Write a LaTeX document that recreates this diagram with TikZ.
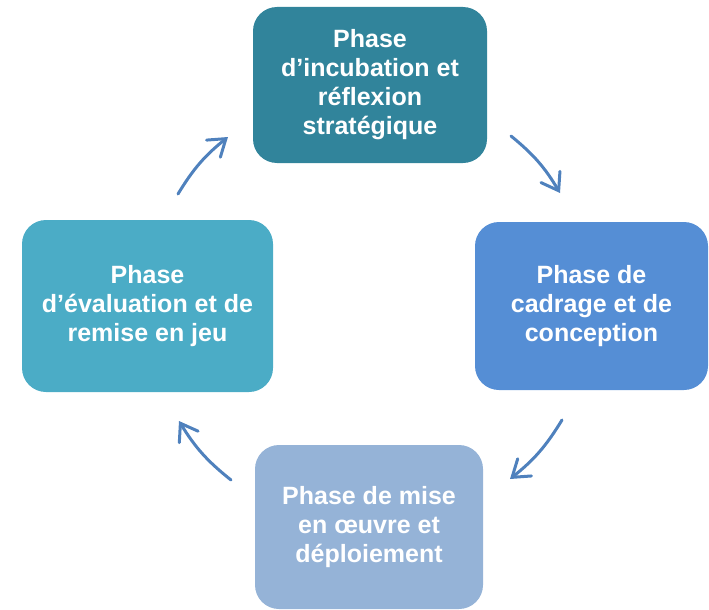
\documentclass[tikz,border=0pt]{standalone}
\usepackage{fontspec}
\setmainfont{Liberation Sans}
\usetikzlibrary{arrows.meta}
\definecolor{phaseA}{HTML}{31849B}
\definecolor{phaseB}{HTML}{558ED5}
\definecolor{phaseC}{HTML}{95B3D7}
\definecolor{phaseD}{HTML}{4BACC6}
\definecolor{cyc}{HTML}{4F81BD}
\tikzset{
  phasebox/.style={rectangle, rounded corners=24pt, draw=none, text=white,
    font=\fontsize{25}{29}\selectfont\bfseries, align=center, inner sep=0pt},
  cycarrow/.style={draw=cyc, line width=3pt, line cap=round,
    -{Straight Barb[length=16pt,width=22pt,line cap=round]}}
}
\begin{document}
\begin{tikzpicture}[x=1pt,y=-1pt]
        \useasboundingbox (0,0) rectangle (709,610);
        \node[phasebox, fill=phaseA, minimum width=234pt, minimum height=156pt] (incub) at (370,85) {Phase\\d’incubation et\\réflexion\\stratégique};
        \node[phasebox, fill=phaseB, minimum width=233pt, minimum height=168pt] (cadrage) at (591.5,306) {Phase de\\cadrage et de\\conception};
        \node[phasebox, fill=phaseC, minimum width=228pt, minimum height=164pt] (oeuvre) at (369,527) {Phase de mise\\en œuvre et\\déploiement};
        \node[phasebox, fill=phaseD, minimum width=251pt, minimum height=172pt] (evalu) at (147.5,306) {Phase\\d’évaluation et de\\remise en jeu};

        \coordinate (t1) at (511,136);
        \coordinate (t2) at (560,193);
        \coordinate (r1) at (562,420);
        \coordinate (r2) at (510,479);
        \coordinate (b1) at (231,480);
        \coordinate (b2) at (179,421);
        \coordinate (l1) at (178,194);
        \coordinate (l2) at (228,137);

        \draw[cycarrow] (t1) to[bend left=10] (t2);
        \draw[cycarrow] (r1) to[bend left=10] (r2);
        \draw[cycarrow] (b1) to[bend left=10] (b2);
        \draw[cycarrow] (l1) to[bend left=10] (l2);
      \end{tikzpicture}
\end{document}
